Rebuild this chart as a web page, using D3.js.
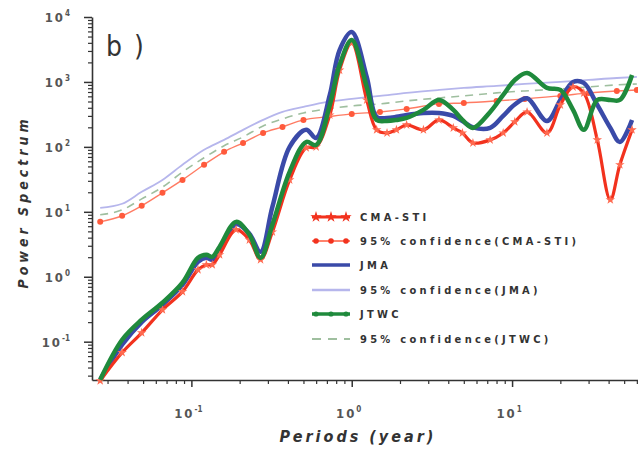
<!DOCTYPE html>
<html>
<head>
<meta charset="utf-8">
<script src="https://cdn.jsdelivr.net/npm/d3@7"></script>
<style>
  body { margin: 0; background: #fff; }
  text { font-family: "Liberation Sans Narrow", "DejaVu Sans Condensed", "Arial Narrow", sans-serif; }
</style>
</head>
<body>
<div id="chart"></div>
<script>
// periods (year) for the three spectra
const periods = [0.027, 0.037, 0.049, 0.066, 0.088, 0.11, 0.124, 0.135, 0.15, 0.19, 0.23, 0.27, 0.32, 0.41, 0.52, 0.6, 0.73, 0.84, 1.0, 1.24, 1.43, 1.66, 1.9, 2.2, 2.8, 3.5, 4.3, 4.9, 5.7, 7.3, 8.8, 10.4, 12.4, 16.5, 20, 24, 28, 34, 41, 47, 56];
const cmaSti = [0.025, 0.068, 0.137, 0.31, 0.59, 1.28, 1.53, 1.53, 2.18, 5.3, 3.7, 1.83, 4.9, 31, 97, 100, 310, 1520, 3980, 528, 183, 164, 183, 218, 183, 260, 196, 164, 115, 128, 164, 243, 345, 164, 443, 838, 676, 128, 15.3, 53, 183];
const jma = [0.026, 0.09, 0.2, 0.37, 0.75, 1.7, 1.96, 1.83, 2.6, 6.5, 4.6, 2.42, 11.9, 100, 183, 137, 631, 3100, 5870, 1194, 290, 279, 290, 310, 333, 333, 300, 250, 200, 196, 300, 450, 560, 250, 528, 1000, 966, 443, 196, 119, 260];
const jtwc = [0.026, 0.107, 0.218, 0.398, 0.81, 1.96, 2.18, 2.03, 2.9, 7.0, 4.43, 1.96, 6.3, 41.3, 119, 107, 443, 1820, 4430, 838, 260, 251, 260, 279, 371, 528, 371, 260, 196, 345, 631, 1072, 1375, 809, 753, 371, 183, 528, 528, 528, 1281];

// periods for the 95% confidence curves
const confPeriods = [0.027, 0.037, 0.049, 0.066, 0.088, 0.12, 0.16, 0.21, 0.28, 0.37, 0.5, 0.7, 1.0, 1.5, 2.2, 3.5, 5, 8, 12, 20, 30, 45, 60];
const confCma = [7.0, 8.7, 12.4, 19.6, 31, 53, 84, 115, 164, 203, 260, 290, 322, 345, 384, 459, 475, 510, 548, 609, 678, 727, 753];
const confJma = [11.5, 13.3, 20.3, 31, 53, 90, 128, 183, 260, 345, 412, 492, 548, 609, 678, 753, 809, 868, 931, 1000, 1072, 1150, 1194];
const confJtwc = [9.0, 10.7, 15.8, 24, 41, 68, 104, 142, 210, 269, 333, 384, 427, 459, 510, 567, 609, 678, 727, 780, 838, 900, 931];

const yTicks = [1e-1, 1e0, 1e1, 1e2, 1e3, 1e4];
const yTickExp = ["-1", "0", "1", "2", "3", "4"];
const xTicks = [1e-1, 1e0, 1e1];
const xTickExp = ["-1", "0", "1"];

const legendNames = ["CMA-STI", "95% confidence(CMA-STI)", "JMA", "95% confidence(JMA)", "JTWC", "95% confidence(JTWC)"];

const width = 638;
const height = 450;

const red = "#f2321e", blue = "#3a4aa8", green = "#1f8a3c";
const redConf = "#ff5a3c", blueConf = "#b6b6ec", greenConf = "#9fbf9f";

const svg = d3.select("#chart")
    .append("svg")
    .attr("width", width)
    .attr("height", height);

const x = d3.scaleLog().domain([0.024, 61]).range([92, 638]);
const y = d3.scaleLog().domain([0.0257, 10000]).range([380, 17]);

// minor tick values for a log axis
function minorTicks(scale) {
    const [a, b] = scale.domain();
    const out = [];
    for (let e = Math.floor(Math.log10(a)); e <= Math.ceil(Math.log10(b)); e++) {
        for (let m = 2; m <= 9; m++) {
            const v = m * Math.pow(10, e);
            if (v >= a && v <= b) out.push(v);
        }
    }
    return out;
}

const axisColor = "#333";

// y axis
svg.append("g")
    .attr("transform", "translate(92,0)")
    .call(d3.axisLeft(y).tickValues(minorTicks(y)).tickSize(4).tickSizeOuter(0).tickFormat(""))
    .call(g => g.select(".domain").remove())
    .call(g => g.selectAll("line").attr("stroke", axisColor).attr("stroke-width", 1.2));
svg.append("g")
    .attr("transform", "translate(92,0)")
    .call(d3.axisLeft(y).tickValues(yTicks).tickSize(8).tickSizeOuter(0).tickFormat(""))
    .call(g => g.selectAll("line").attr("stroke", axisColor).attr("stroke-width", 1.5))
    .call(g => g.select(".domain").attr("stroke", axisColor).attr("stroke-width", 1.6));

// x axis
svg.append("g")
    .attr("transform", "translate(0,380)")
    .call(d3.axisBottom(x).tickValues(minorTicks(x)).tickSize(4).tickSizeOuter(0).tickFormat(""))
    .call(g => g.select(".domain").remove())
    .call(g => g.selectAll("line").attr("stroke", axisColor).attr("stroke-width", 1.2));
svg.append("g")
    .attr("transform", "translate(0,380)")
    .call(d3.axisBottom(x).tickValues(xTicks).tickSize(7).tickSizeOuter(0).tickFormat(""))
    .call(g => g.selectAll("line").attr("stroke", axisColor).attr("stroke-width", 1.5))
    .call(g => g.select(".domain").attr("stroke", axisColor).attr("stroke-width", 1.6));

// tick labels with superscripts
yTicks.forEach((v, i) => {
    const t = svg.append("text")
        .attr("x", 70)
        .attr("y", y(v) + 5)
        .attr("text-anchor", "end")
        .attr("fill", "#555")
        .attr("font-size", 13)
        .attr("font-weight", "bold")
        .attr("letter-spacing", 2)
        .text("10");
    t.append("tspan")
        .attr("dy", -6)
        .attr("font-size", 8)
        .attr("letter-spacing", 0)
        .text(yTickExp[i]);
});
xTicks.forEach((v, i) => {
    const t = svg.append("text")
        .attr("x", x(v) - 3)
        .attr("y", 418)
        .attr("text-anchor", "middle")
        .attr("fill", "#555")
        .attr("font-size", 13)
        .attr("font-weight", "bold")
        .attr("letter-spacing", 2)
        .text("10");
    t.append("tspan")
        .attr("dy", -6)
        .attr("font-size", 8)
        .attr("letter-spacing", 0)
        .text(xTickExp[i]);
});

// axis titles
svg.append("text")
    .attr("x", 358)
    .attr("y", 442)
    .attr("text-anchor", "middle")
    .attr("font-size", 16)
    .attr("font-weight", "bold")
    .attr("font-style", "italic")
    .attr("letter-spacing", 3)
    .attr("fill", "#333")
    .text("Periods (year)");

svg.append("text")
    .attr("transform", "translate(28,202) rotate(-90)")
    .attr("text-anchor", "middle")
    .attr("font-size", 14)
    .attr("font-weight", "bold")
    .attr("font-style", "italic")
    .attr("letter-spacing", 4)
    .attr("fill", "#333")
    .text("Power Spectrum");

svg.append("text")
    .attr("x", 106)
    .attr("y", 56)
    .attr("font-size", 28)
    .attr("letter-spacing", 2)
    .attr("fill", "#333")
    .text("b )");

const line = d3.line()
    .x(d => x(d[0]))
    .y(d => y(d[1]))
    .curve(d3.curveCatmullRom.alpha(0.5));

const confLine = d3.line()
    .x(d => x(d[0]))
    .y(d => y(d[1]))
    .curve(d3.curveMonotoneX);

const pairs = (xs, ys) => xs.map((p, i) => [p, ys[i]]);

// confidence curves
svg.append("path")
    .datum(pairs(confPeriods, confJma))
    .attr("d", confLine)
    .attr("fill", "none")
    .attr("stroke", blueConf)
    .attr("stroke-width", 1.8);
svg.append("path")
    .datum(pairs(confPeriods, confJtwc))
    .attr("d", confLine)
    .attr("fill", "none")
    .attr("stroke", greenConf)
    .attr("stroke-width", 1.6)
    .attr("stroke-dasharray", "8,6");
svg.append("path")
    .datum(pairs(confPeriods, confCma))
    .attr("d", confLine)
    .attr("fill", "none")
    .attr("stroke", redConf)
    .attr("stroke-width", 1.4)
    .attr("stroke-opacity", 0.8);
svg.selectAll(".confdot")
    .data(pairs(confPeriods, confCma))
    .enter().append("circle")
    .attr("class", "confdot")
    .attr("cx", d => x(d[0]))
    .attr("cy", d => y(d[1]))
    .attr("r", 3)
    .attr("fill", redConf);

// spectra
svg.append("path")
    .datum(pairs(periods, jma))
    .attr("d", line)
    .attr("fill", "none")
    .attr("stroke", blue)
    .attr("stroke-width", 4.5)
    .attr("stroke-linejoin", "round");

svg.append("path")
    .datum(pairs(periods, cmaSti))
    .attr("d", line)
    .attr("fill", "none")
    .attr("stroke", red)
    .attr("stroke-width", 3.2)
    .attr("stroke-linejoin", "round");
svg.selectAll(".star")
    .data(pairs(periods, cmaSti))
    .enter().append("path")
    .attr("class", "star")
    .attr("transform", d => `translate(${x(d[0])},${y(d[1])})`)
    .attr("d", d3.symbol(d3.symbolStar, 28))
    .attr("fill", "#ff6a50");

svg.append("path")
    .datum(pairs(periods, jtwc))
    .attr("d", line)
    .attr("fill", "none")
    .attr("stroke", green)
    .attr("stroke-width", 4.5)
    .attr("stroke-linejoin", "round");

// legend
const legendY = [217, 241, 265, 290, 314, 339];
const lg = svg.append("g");
const sx0 = 312, sx1 = 350, marks = [316, 331, 346];

lg.append("line").attr("x1", sx0).attr("x2", sx1).attr("y1", legendY[0]).attr("y2", legendY[0])
    .attr("stroke", red).attr("stroke-width", 3);
marks.forEach(m => lg.append("path").attr("transform", `translate(${m},${legendY[0]})`)
    .attr("d", d3.symbol(d3.symbolStar, 40)).attr("fill", red));

lg.append("line").attr("x1", sx0).attr("x2", sx1).attr("y1", legendY[1]).attr("y2", legendY[1])
    .attr("stroke", redConf).attr("stroke-width", 1.6);
marks.forEach(m => lg.append("circle").attr("cx", m).attr("cy", legendY[1]).attr("r", 2.8).attr("fill", red));

lg.append("line").attr("x1", sx0).attr("x2", sx1).attr("y1", legendY[2]).attr("y2", legendY[2])
    .attr("stroke", blue).attr("stroke-width", 3.5);

lg.append("line").attr("x1", sx0).attr("x2", sx1).attr("y1", legendY[3]).attr("y2", legendY[3])
    .attr("stroke", blueConf).attr("stroke-width", 2.5);

lg.append("line").attr("x1", sx0).attr("x2", sx1).attr("y1", legendY[4]).attr("y2", legendY[4])
    .attr("stroke", green).attr("stroke-width", 3.5);
marks.forEach(m => lg.append("circle").attr("cx", m).attr("cy", legendY[4]).attr("r", 2.6).attr("fill", green));

lg.append("line").attr("x1", sx0).attr("x2", sx1).attr("y1", legendY[5]).attr("y2", legendY[5])
    .attr("stroke", greenConf).attr("stroke-width", 2).attr("stroke-dasharray", "9,7");

lg.selectAll(".ltext")
    .data(legendNames)
    .enter().append("text")
    .attr("class", "ltext")
    .attr("x", 360)
    .attr("y", (d, i) => legendY[i] + 4)
    .attr("font-size", 11)
    .attr("font-weight", "bold")
    .attr("letter-spacing", 3.3)
    .attr("fill", "#333")
    .text(d => d);
</script>
</body>
</html>
